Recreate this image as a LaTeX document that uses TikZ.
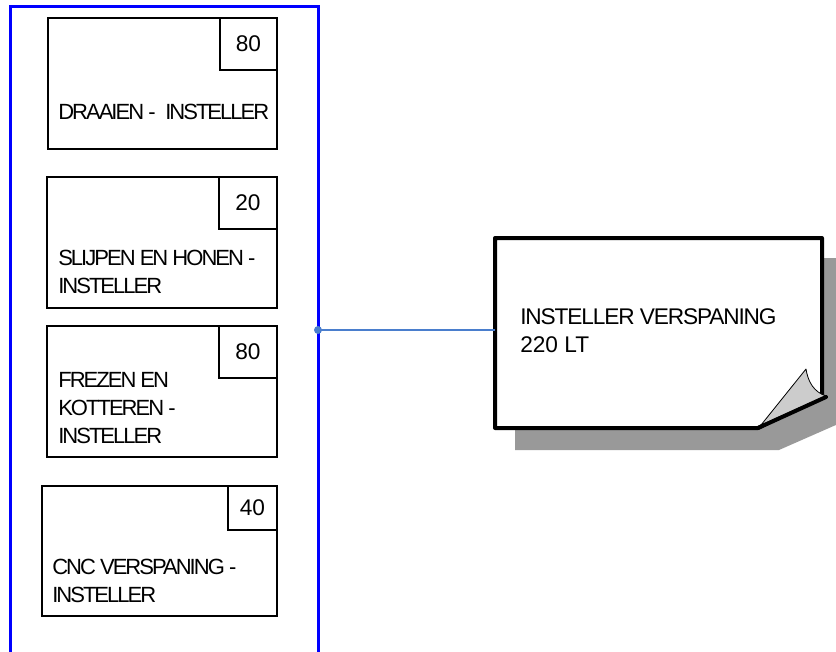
\documentclass[tikz,border=0pt]{standalone}
\usepackage{fontspec}
\setmainfont{Liberation Sans}
\newfontfamily\boxfont{Liberation Sans}[LetterSpace=-9]
\newfontfamily\notefont{Liberation Sans}[LetterSpace=-5]
\usetikzlibrary{fit}
\definecolor{connblue}{RGB}{74,126,205}
\definecolor{frameblue}{RGB}{0,0,255}
\definecolor{shadowgray}{RGB}{153,153,153}
\definecolor{curlgray}{RGB}{204,204,204}
\begin{document}
\begin{tikzpicture}[x=0.75pt,y=-0.75pt,
  box/.style={draw=black,line width=1pt,rectangle,inner sep=0pt},
  numtxt/.style={inner sep=0pt,font=\fontsize{17}{18}\selectfont},
  lbl/.style={anchor=west,inner sep=0pt,align=left,font=\fontsize{16.5}{21}\boxfont},
  notelbl/.style={anchor=west,inner sep=0pt,align=left,font=\fontsize{17}{21}\notefont},
  frame/.style={draw=frameblue,line width=2.25pt},
  conn/.style={draw=connblue,line width=0.8pt},
  notebody/.style={fill=white,draw=black,line width=3pt,line join=round},
]
\useasboundingbox (0,0) rectangle (836,651);
\clip (0,0) rectangle (836,651);

% blue frame
\draw[frame] (10.5,700) -- (10.5,6) -- (318,6) -- (318,700);

% box 1
\node[box,fit={(48,18) (277,149)}] (b1) {};
\node[box,fit={(220,18) (277,70)}] (n1) {};
\node[numtxt] (n1t) at (n1.center) {80};
\node[lbl] (t1) at (58,112) {DRAAIEN - \hspace{0.25em}INSTELLER};

% box 2
\node[box,fit={(47,177) (277,308)}] (b2) {};
\node[box,fit={(219,177) (277,229)}] (n2) {};
\node[numtxt] (n2t) at (n2.center) {20};
\node[lbl] (t2) at (58,272) {SLIJPEN EN HONEN -\\INSTELLER};

% box 3
\node[box,fit={(47,326) (277,457)}] (b3) {};
\node[box,fit={(219,326) (277,378)}] (n3) {};
\node[numtxt] (n3t) at (n3.center) {80};
\node[lbl] (t3) at (58,408) {FREZEN EN\\KOTTEREN -\\INSTELLER};

% box 4
\node[box,fit={(42,486) (277,616)}] (b4) {};
\node[box,fit={(228,486) (277,530)}] (n4) {};
\node[numtxt] (n4t) at (n4.center) {40};
\node[lbl] (t4) at (52,581) {CNC VERSPANING -\\INSTELLER};

% note shadow
\fill[shadowgray] (515,258) -- (870,258) -- (870,410) -- (779,450) -- (515,450) -- cycle;
% note body
\node[inner sep=0pt,fit={(495,238) (822,428)}] (note) {};
\path[notebody] (495,238) -- (822,238) -- (822,396) -- (758,428) -- (495,428) -- cycle;
\filldraw[fill=curlgray,draw=black,line width=0.6pt,line join=round]
  (761,425) -- (806,369) .. controls (808,382) and (814,392) .. (826,396) -- cycle;
\draw[black,line width=3pt,line cap=round] (758,428) -- (826,397);
\node[notelbl] (nt) at (520,331) {INSTELLER VERSPANING\\\normalfont 220 LT};

% connector
\coordinate (tap) at (318,330);
\draw[conn] (tap) -- (note.west |- tap);
\fill[connblue] (tap) circle (3pt);
\end{tikzpicture}
\end{document}
